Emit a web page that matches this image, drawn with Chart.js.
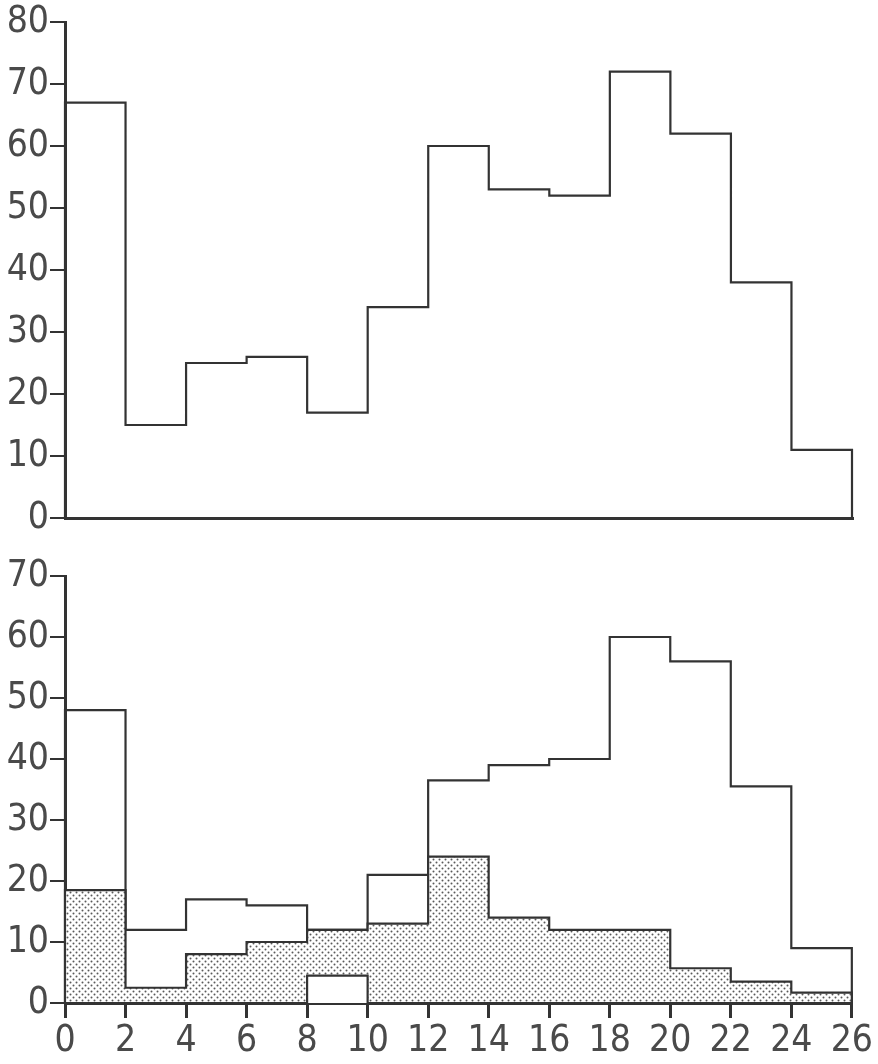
<!DOCTYPE html>
<html>
<head>
<meta charset="utf-8">
<script src="https://cdn.jsdelivr.net/npm/chart.js@4.4.1/dist/chart.umd.min.js"></script>
<style>
  html, body { margin: 0; padding: 0; background: #fff; }
  #wrap { position: relative; width: 878px; height: 1064px; }
  .panel { position: absolute; left: 0; width: 878px; }
  #topPanel { top: 0; height: 540px; }
  #bottomPanel { top: 540px; height: 524px; }
</style>
</head>
<body>
<div id="wrap">
  <div class="panel" id="topPanel"><canvas id="topChart" width="878" height="540"></canvas></div>
  <div class="panel" id="bottomPanel"><canvas id="bottomChart" width="878" height="524"></canvas></div>
</div>
<script>
// class limits (width 2)
const binEdges = [0, 2, 4, 6, 8, 10, 12, 14, 16, 18, 20, 22, 24, 26];

// upper histogram
const topCounts = [67, 15, 25, 26, 17, 34, 60, 53, 52, 72, 62, 38, 11];

// lower histogram: outline, stippled part, and the unshaded foot in the 8-10 class
const bottomCounts = [48, 12, 17, 16, 12, 21, 36.5, 39, 40, 60, 56, 35.5, 9];
const bottomShaded = [18.5, 2.5, 8, 10, 12, 13, 24, 14, 12, 12, 5.7, 3.5, 1.7];
const bottomGap = [0, 0, 0, 0, 4.5, 0, 0, 0, 0, 0, 0, 0, 0];

// tick labels
const xTicks = [0, 2, 4, 6, 8, 10, 12, 14, 16, 18, 20, 22, 24, 26];
const topYTicks = [0, 10, 20, 30, 40, 50, 60, 70, 80];
const bottomYTicks = [0, 10, 20, 30, 40, 50, 60, 70];

const INK = '#333';
const LABEL = '#4a4a4a';
const labelFont = { family: '"DejaVu Sans Condensed", "DejaVu Sans", sans-serif', size: 37, lineHeight: 1 };

// turn a list of class counts into the outline of a histogram
function histOutline(values) {
    const pts = [{ x: binEdges[0], y: 0 }];
    values.forEach(function (v, i) {
        pts.push({ x: binEdges[i], y: v });
        pts.push({ x: binEdges[i + 1], y: v });
    });
    pts.push({ x: binEdges[binEdges.length - 1], y: 0 });
    return pts;
}

// fine dot screen like the printed stipple
function stipple() {
    const c = document.createElement('canvas');
    c.width = 6;
    c.height = 6;
    const g = c.getContext('2d');
    g.fillStyle = '#fff';
    g.fillRect(0, 0, 6, 6);
    g.fillStyle = '#5a5a5a';
    g.beginPath();
    g.arc(1.5, 1.5, 1, 0, Math.PI * 2);
    g.arc(4.5, 4.5, 1, 0, Math.PI * 2);
    g.fill();
    return g.createPattern(c, 'repeat');
}

function lineSet(values, fill, bg, order) {
    return {
        data: histOutline(values),
        borderColor: INK,
        borderWidth: 2.2,
        backgroundColor: bg,
        fill: fill,
        pointRadius: 0,
        tension: 0,
        order: order,
        clip: 6
    };
}

function yScale(max, ticks) {
    return {
        type: 'linear',
        min: 0,
        max: max,
        afterBuildTicks: function (s) { s.ticks = ticks.map(function (v) { return { value: v }; }); },
        afterFit: function (s) { s.width = 65; },
        border: { display: true, color: INK, width: 3 },
        grid: { drawOnChartArea: false, drawTicks: true, tickLength: 15, color: INK, lineWidth: 2 },
        ticks: { color: LABEL, font: labelFont, padding: 1 }
    };
}

function xScale(showTicks, height) {
    return {
        type: 'linear',
        min: 0,
        max: 26,
        afterBuildTicks: function (s) { s.ticks = xTicks.map(function (v) { return { value: v }; }); },
        afterFit: function (s) { s.height = height; },
        border: { display: true, color: INK, width: 3 },
        grid: { display: showTicks, drawOnChartArea: false, drawTicks: true, tickLength: 15, color: INK, lineWidth: 3 },
        ticks: { display: showTicks, color: LABEL, font: labelFont, padding: 5, maxRotation: 0, autoSkip: false }
    };
}

const common = {
    responsive: false,
    animation: false,
    plugins: { legend: { display: false }, tooltip: { enabled: false } }
};

new Chart(document.getElementById('topChart').getContext('2d'), {
    type: 'line',
    data: { datasets: [lineSet(topCounts, false, 'transparent', 1)] },
    options: Object.assign({}, common, {
        layout: { padding: { top: 22, right: 26, left: 0, bottom: 0 } },
        scales: { x: xScale(false, 22), y: yScale(80, topYTicks) }
    })
});

new Chart(document.getElementById('bottomChart').getContext('2d'), {
    type: 'line',
    data: {
        datasets: [
            lineSet(bottomCounts, false, 'transparent', 3),
            lineSet(bottomShaded, 'origin', stipple(), 2),
            lineSet(bottomGap, 'origin', '#fff', 1)
        ]
    },
    options: Object.assign({}, common, {
        layout: { padding: { top: 36, right: 26, left: 0, bottom: 0 } },
        scales: { x: xScale(true, 61), y: yScale(70, bottomYTicks) }
    })
});
</script>
</body>
</html>
